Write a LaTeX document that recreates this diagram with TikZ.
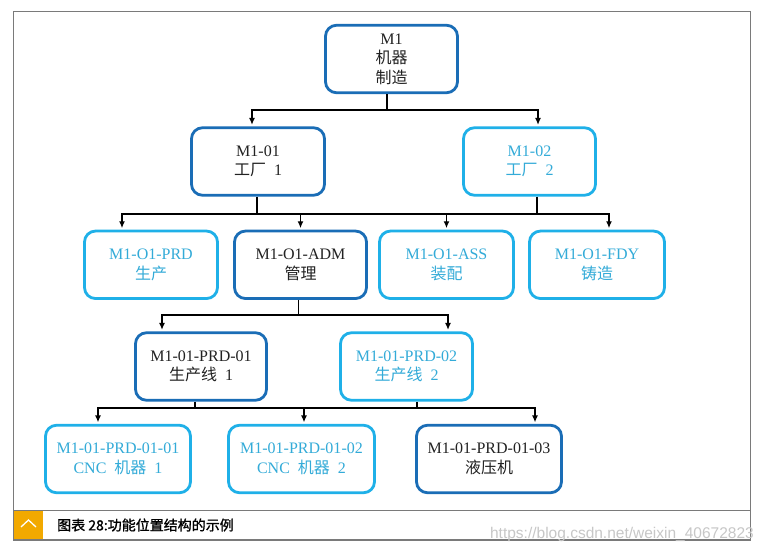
\documentclass[tikz,border=0pt]{standalone}
\usepackage{fontspec}
\setmainfont{Liberation Serif}
\newfontfamily\cjk{Noto Sans CJK SC}
\newfontfamily\cjkb[FakeBold=1.2]{Noto Sans CJK SC}
\newfontfamily\wmfont{Liberation Sans}
\usetikzlibrary{arrows.meta}
\definecolor{dkblue}{HTML}{1A6DB6}
\definecolor{ltblue}{HTML}{1FB0E8}
\definecolor{lttext}{HTML}{33ABD8}
\definecolor{dktext}{HTML}{222222}
\definecolor{framegray}{HTML}{7A7A7A}
\definecolor{capor}{HTML}{F2A900}
\begin{document}
\begin{tikzpicture}[x=1pt,y=-1pt,
 box/.style={rectangle, rounded corners=11pt, line width=2.8pt, inner sep=0pt,
   minimum width=#1, minimum height=67.5pt, align=center,
   font=\fontsize{16}{19.5}\selectfont},
 dkbox/.style={box=#1, draw=dkblue, text=dktext},
 ltbox/.style={box=#1, draw=ltblue, text=lttext},
 conn/.style={line width=1.6pt, draw=black},
 arr/.style={conn, -{Latex[length=7pt,width=6pt]}, shorten >=1.4pt}]
\fill[white] (0,0) rectangle (765,551);
\useasboundingbox (0,0) rectangle (765,551);
% frame and caption bar
\draw[framegray, line width=1.2pt] (13.3,11.7) rectangle (750.7,540);
\draw[framegray, line width=1.2pt] (13.3,510.7) -- (750.7,510.7);
\fill[capor] (13.9,511.3) rectangle (43,539.4);
\draw[white, line width=1.3pt] (21,527) -- (28.5,520) -- (36,527);
\node[anchor=west, inner sep=0pt, font=\cjkb\fontsize{14}{16}\selectfont] (cap) at (57,525) {图表 28:功能位置结构的示例};
\node[anchor=base east, inner sep=0pt, text=black!22, font=\wmfont\fontsize{15.5}{18}\selectfont] (wm) at (754,538) {https://blog.csdn.net/weixin\_40672823};
% boxes
\node[dkbox=132pt] (root) at (391.5,59) {M1\\{\cjk 机器}\\{\cjk 制造}};
\node[dkbox=133pt] (n01) at (258,161.5) {M1-01\\{\cjk 工厂}\ \ 1};
\node[ltbox=132pt] (n02) at (529.5,161.5) {M1-02\\{\cjk 工厂}\ \ 2};
\node[ltbox=133pt] (prd) at (151,264.8) {M1-O1-PRD\\{\cjk 生产}};
\node[dkbox=132pt] (adm) at (300.5,264.8) {M1-O1-ADM\\{\cjk 管理}};
\node[ltbox=134pt] (ass) at (446.5,264.8) {M1-O1-ASS\\{\cjk 装配}};
\node[ltbox=135pt] (fdy) at (597,264.8) {M1-O1-FDY\\{\cjk 铸造}};
\node[dkbox=131pt] (p01) at (201,366.5) {M1-01-PRD-01\\{\cjk 生产线}\ \ 1};
\node[ltbox=132pt] (p02) at (406.5,366.5) {M1-01-PRD-02\\{\cjk 生产线}\ \ 2};
\node[ltbox=145pt] (c1) at (118,459) {M1-01-PRD-01-01\\CNC\ \ {\cjk 机器}\ \ 1};
\node[ltbox=146pt] (c2) at (301.5,459) {M1-01-PRD-01-02\\CNC\ \ {\cjk 机器}\ \ 2};
\node[dkbox=145pt] (c3) at (489,459) {M1-01-PRD-01-03\\{\cjk 液压机}};
% level 1 -> 2
\coordinate (j1) at (387,110);
\draw[conn] (root.south -| j1) -- (j1);
\draw[arr] (j1) -| ([xshift=-6pt]n01.north);
\draw[arr] (j1) -| ([xshift=8.5pt]n02.north);
% level 2 -> 3
\coordinate (j2) at (257,214);
\coordinate (j3) at (537,214);
\draw[conn] (n01.south -| j2) -- (j2);
\draw[conn] (n02.south -| j3) -- (j3);
\draw[conn] (j2) -- (j3);
\draw[arr] (j2) -| ([xshift=-29pt]prd.north);
\draw[arr] (j2) -| (adm.north);
\draw[arr] (j3) -| (ass.north);
\draw[arr] (j3) -| ([xshift=12pt]fdy.north);
% level 3 -> 4
\coordinate (j4) at (298.5,315);
\draw[conn] (adm.south -| j4) -- (j4);
\draw[arr] (j4) -| ([xshift=-39pt]p01.north);
\draw[arr] (j4) -| ([xshift=41.5pt]p02.north);
% level 4 -> 5
\coordinate (j5) at (195,408);
\coordinate (j6) at (417,408);
\draw[conn] (p01.south -| j5) -- (j5);
\draw[conn] (p02.south -| j6) -- (j6);
\draw[conn] (j5) -- (j6);
\draw[arr] (j5) -| ([xshift=-20pt]c1.north);
\draw[arr] (j5) -| ([xshift=2.5pt]c2.north);
\draw[arr] (j6) -| ([xshift=46pt]c3.north);
\end{tikzpicture}
\end{document}
